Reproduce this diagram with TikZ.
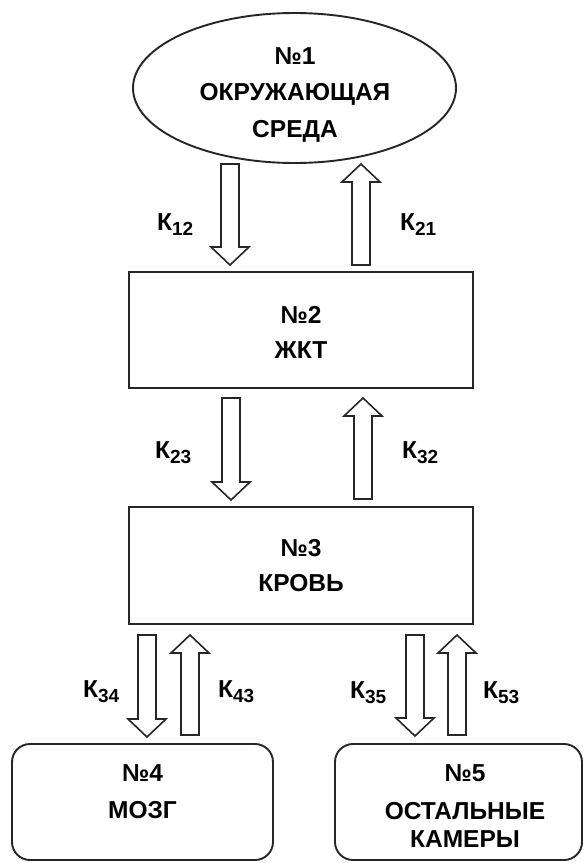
\documentclass[tikz,border=0pt]{standalone}
\usepackage{fontspec}
\setmainfont{Liberation Sans}
\usetikzlibrary{calc,shapes.geometric}
\definecolor{lineclr}{HTML}{262626}
\newcommand{\ksub}[1]{К\raisebox{-5pt}{\fontsize{19}{19}\selectfont #1}}
\newcommand{\blockdown}[2]{\draw[blockarrow] let \p1=(#1), \p2=(#2) in
  (\x1-9pt,\y1) -- (\x1+9pt,\y1) -- (\x1+9pt,\y2+18pt) -- (\x1+19pt,\y2+18pt)
  -- (\x1,\y2) -- (\x1-19pt,\y2+18pt) -- (\x1-9pt,\y2+18pt) -- cycle;}
\newcommand{\blockup}[2]{\draw[blockarrow] let \p1=(#1), \p2=(#2) in
  (\x1-9pt,\y1) -- (\x1+9pt,\y1) -- (\x1+9pt,\y2-18pt) -- (\x1+19pt,\y2-18pt)
  -- (\x1,\y2) -- (\x1-19pt,\y2-18pt) -- (\x1-9pt,\y2-18pt) -- cycle;}
\begin{document}
\begin{tikzpicture}[x=1pt,y=-1pt,
  envshape/.style={ellipse, draw=lineclr, line width=1.9pt, inner sep=0pt,
    minimum width=323pt, minimum height=150pt},
  boxshape/.style={rectangle, draw=lineclr, line width=1.9pt, inner sep=0pt},
  roundbox/.style={boxshape, rounded corners=18pt},
  lbl/.style={align=center, inner sep=0pt},
  klbl/.style={anchor=base west, inner sep=0pt, font=\fontsize{24.5}{24.5}\selectfont\bfseries},
  blockarrow/.style={draw=lineclr, line width=1.6pt, fill=white, line join=miter}]
\useasboundingbox (0,0) rectangle (584,863);
\fill[white] (0,0) rectangle (584,863);
% compartments
\node[envshape] (n1) at (294.5,88) {};
\node[boxshape, minimum width=344pt, minimum height=116pt] (n2) at (301,330) {};
\node[boxshape, minimum width=344pt, minimum height=117pt] (n3) at (301,565.5) {};
\node[roundbox, minimum width=261pt, minimum height=116pt] (n4) at (142.5,802) {};
\node[roundbox, minimum width=247pt, minimum height=116pt] (n5) at (458.5,802) {};
% texts
\node[lbl, font=\fontsize{24.5}{36.5}\selectfont\bfseries] (t1) at (295,95) {№1\\ОКРУЖАЮЩАЯ\\СРЕДА};
\node[lbl, font=\fontsize{24.5}{35}\selectfont\bfseries] (t2) at (301,332.5) {№2\\ЖКТ};
\node[lbl, font=\fontsize{24.5}{35}\selectfont\bfseries] (t3) at (301,565.5) {№3\\КРОВЬ};
\node[lbl, font=\fontsize{24.5}{37}\selectfont\bfseries] (t4) at (142.5,791.5) {№4\\МОЗГ};
\node[lbl, font=\fontsize{24.5}{28}\selectfont\bfseries] (t5) at (465,806) {№5\\[10pt]ОСТАЛЬНЫЕ\\КАМЕРЫ};
% arrow end points
\coordinate (a12s) at (230,164); \coordinate (a12e) at (230,265);
\coordinate (a21s) at (361,265); \coordinate (a21e) at (361,164);
\coordinate (a23s) at (231,398); \coordinate (a23e) at (231,500);
\coordinate (a32s) at (363,499); \coordinate (a32e) at (363,398);
\coordinate (a34s) at (147,635); \coordinate (a34e) at (147,737);
\coordinate (a43s) at (190,735); \coordinate (a43e) at (190,635);
\coordinate (a35s) at (415,635); \coordinate (a35e) at (415,736);
\coordinate (a53s) at (457,735); \coordinate (a53e) at (457,635);
\blockdown{a12s}{a12e}
\blockup{a21s}{a21e}
\blockdown{a23s}{a23e}
\blockup{a32s}{a32e}
\blockdown{a34s}{a34e}
\blockup{a43s}{a43e}
\blockdown{a35s}{a35e}
\blockup{a53s}{a53e}
% rate constants
\node[klbl] (k12) at (157,230) {\ksub{12}};
\node[klbl] (k21) at (400,230) {\ksub{21}};
\node[klbl] (k23) at (155,458) {\ksub{23}};
\node[klbl] (k32) at (402,458) {\ksub{32}};
\node[klbl] (k34) at (83,697) {\ksub{34}};
\node[klbl] (k43) at (218,697) {\ksub{43}};
\node[klbl] (k35) at (350,698) {\ksub{35}};
\node[klbl] (k53) at (483,698) {\ksub{53}};
\end{tikzpicture}
\end{document}
